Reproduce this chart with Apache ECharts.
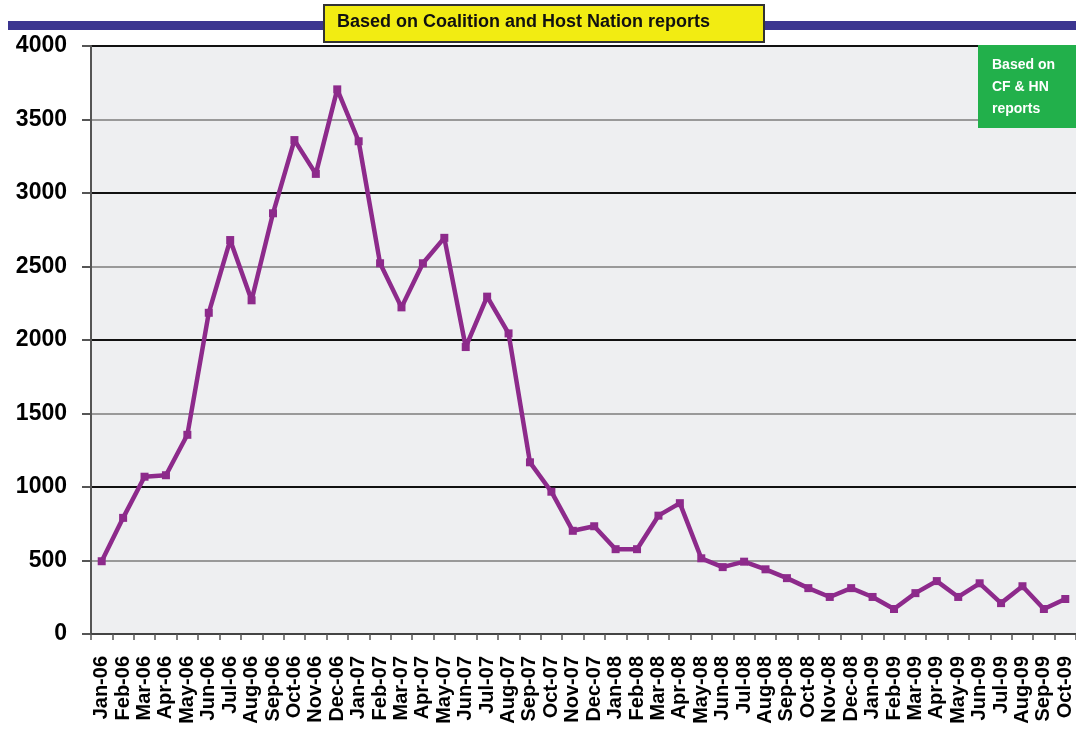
<!DOCTYPE html>
<html>
<head>
<meta charset="utf-8">
<script src="https://cdn.jsdelivr.net/npm/echarts@6/dist/echarts.min.js"></script>
<style>html,body{margin:0;padding:0;background:#fff}#c{width:1076px;height:745px}</style>
</head>
<body>
<div id="c"></div>
<script>
const months = ['Jan-06','Feb-06','Mar-06','Apr-06','May-06','Jun-06','Jul-06','Aug-06','Sep-06','Oct-06','Nov-06','Dec-06',
  'Jan-07','Feb-07','Mar-07','Apr-07','May-07','Jun-07','Jul-07','Aug-07','Sep-07','Oct-07','Nov-07','Dec-07',
  'Jan-08','Feb-08','Mar-08','Apr-08','May-08','Jun-08','Jul-08','Aug-08','Sep-08','Oct-08','Nov-08','Dec-08',
  'Jan-09','Feb-09','Mar-09','Apr-09','May-09','Jun-09','Jul-09','Aug-09','Sep-09','Oct-09'];
const attacks = [495, 790, 1070, 1080, 1355, 2185, 2680, 2270, 2862, 3360, 3130, 3705,
  3352, 2522, 2222, 2522, 2695, 1952, 2295, 2045, 1168, 968, 702, 733,
  577, 577, 805, 890, 515, 455, 492, 440, 380, 312, 252, 312,
  252, 170, 278, 360, 252, 345, 210, 325, 170, 238];
const bannerText = 'Based on Coalition and Host Nation reports';
const sideNote = 'Based on\nCF & HN\nreports';

const chart = echarts.init(document.getElementById('c'));
chart.setOption({
  animation: false,
  backgroundColor: '#ffffff',
  grid: { left: 91, top: 46, width: 989, height: 588, show: true, backgroundColor: '#eeeff1', borderWidth: 0 },
  xAxis: {
    type: 'category', data: months, boundaryGap: true,
    axisLine: { show: true, lineStyle: { color: '#444', width: 2 } },
    axisTick: { show: true, length: 6, alignWithLabel: false, lineStyle: { color: '#555', width: 1.5 } },
    axisLabel: { rotate: 90, interval: 0, margin: 22, color: '#000', fontSize: 20, fontWeight: 'bold', fontFamily: 'Liberation Sans, Arial, sans-serif' },
    splitLine: { show: false }
  },
  yAxis: {
    type: 'value', min: 0, max: 4000, interval: 500,
    axisLine: { show: true, lineStyle: { color: '#555', width: 2 } },
    axisTick: { show: true, length: 9, lineStyle: { color: '#555', width: 2 } },
    axisLabel: { margin: 24, color: '#000', fontSize: 23, fontWeight: 'bold', fontFamily: 'Liberation Sans, Arial, sans-serif',
      formatter: function (v) { return String(v); } },
    splitLine: { show: true, lineStyle: { color: ['#111', '#999'], width: 2 } }
  },
  series: [{
    type: 'line', data: attacks,
    lineStyle: { color: '#8d2a8b', width: 4.5 },
    itemStyle: { color: '#8d2a8b' },
    symbol: 'rect', symbolSize: 8, showSymbol: true
  }],
  graphic: [
    { type: 'rect', left: 8, top: 21, shape: { width: 1068, height: 9 }, style: { fill: '#3b3590' }, z: 10 },
    { type: 'rect', left: 323, top: 4, shape: { width: 440, height: 37 }, style: { fill: '#f2ec12', stroke: '#333', lineWidth: 2 }, z: 11 },
    { type: 'text', left: 337, top: 13, style: { text: bannerText, fill: '#111', font: 'bold 18px "Liberation Sans", Arial, sans-serif' }, z: 12 },
    { type: 'rect', left: 978, top: 45, shape: { width: 98, height: 83 }, style: { fill: '#22b04b' }, z: 11 },
    { type: 'text', left: 992, top: 54, style: { text: sideNote, fill: '#fff', lineHeight: 22, font: 'bold 14px "Liberation Sans Narrow", "Liberation Sans", Arial, sans-serif' }, z: 12 }
  ]
});
</script>
</body>
</html>
